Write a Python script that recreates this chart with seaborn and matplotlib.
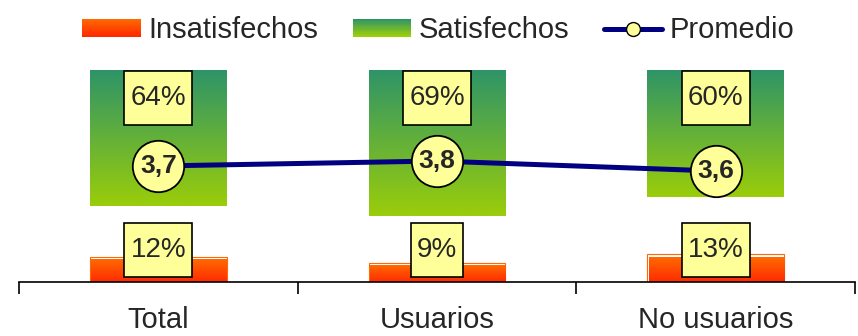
import numpy as np
import pandas as pd
import matplotlib
matplotlib.use("Agg")
import matplotlib.pyplot as plt
import matplotlib.colors as mcolors
from matplotlib.patches import Rectangle
from matplotlib.lines import Line2D
import seaborn as sns

sns.set_theme(style="white")
plt.rcParams['font.family'] = ['Liberation Sans', 'DejaVu Sans']

categorias = ["Total", "Usuarios", "No usuarios"]
insatisfechos = [12, 9, 13]
satisfechos = [64, 69, 60]
promedio = [3.7, 3.8, 3.6]

rojo_top, rojo_bot = "#FF6A00", "#FF2A00"
verde_top, verde_bot = "#2E9468", "#9ACD0A"
amarillo = "#FFFF99"
azul = "#000080"


def gradiente(ax, x0, x1, y0, y1, c_top, c_bot, z=1):
    c1 = np.array(mcolors.to_rgb(c_top))
    c2 = np.array(mcolors.to_rgb(c_bot))
    t = np.linspace(0, 1, 100)[:, None]
    img = (c1 * (1 - t) + c2 * t)[:, None, :]
    ax.imshow(img, extent=[x0, x1, y0, y1], aspect='auto', zorder=z,
              interpolation='bilinear')


class GradHandler:
    def __init__(self, top, bot):
        self.top, self.bot = top, bot

    def legend_artist(self, legend, orig_handle, fontsize, handlebox):
        x0, y0 = handlebox.xdescent, handlebox.ydescent
        w, h = handlebox.width, handlebox.height
        c1 = np.array(mcolors.to_rgb(self.top))
        c2 = np.array(mcolors.to_rgb(self.bot))
        n = 14
        r = None
        for i in range(n):
            c = c1 * (1 - i / (n - 1)) + c2 * (i / (n - 1))
            r = Rectangle((-x0, -y0 + h * (n - 1 - i) / n), w, h / n + 0.3,
                          facecolor=c, edgecolor='none',
                          transform=handlebox.get_transform())
            handlebox.add_artist(r)
        return r


df = pd.DataFrame({"categoria": categorias, "insatisfechos": insatisfechos,
                   "satisfechos": satisfechos, "promedio": promedio})
pos = np.arange(len(df))
ancho = 0.49

fig = plt.figure(figsize=(8.58, 3.36), dpi=100)
ax = fig.add_axes([19 / 858, 1 - 282 / 336, 836 / 858, 212 / 336])

# barras insatisfechos
sns.barplot(data=df, x="categoria", y="insatisfechos", ax=ax, width=ancho,
            color=rojo_top, zorder=1)
for p in ax.patches:
    p.set_facecolor('none')
    p.set_edgecolor(rojo_top)
    p.set_linewidth(0.8)
    x0 = p.get_x()
    gradiente(ax, x0 + 0.004, x0 + p.get_width(), 0, p.get_height() - 1.4,
              rojo_top, rojo_bot)

# barras satisfechos (colgando desde 100)
for i, v in enumerate(df["satisfechos"]):
    gradiente(ax, pos[i] - ancho / 2, pos[i] + ancho / 2, 100 - v, 100,
              verde_top, verde_bot)

caja = dict(boxstyle='square,pad=0.22', mutation_aspect=2.3, fc=amarillo,
            ec='black', lw=1.2)
for i in range(len(df)):
    ax.text(pos[i], 86.8, f"{df['satisfechos'][i]}%", ha='center', va='center',
            fontsize=20, bbox=caja, zorder=5)
    ax.text(pos[i], 15.1, f"{df['insatisfechos'][i]}%", ha='center', va='center',
            fontsize=20, bbox=caja, zorder=5)

ax.set_xlim(-0.5, 2.5)
ax.set_ylim(0, 100)
ax.set_xlabel("")
ax.set_ylabel("")
ax.set_yticks([])
for s in ["top", "left", "right"]:
    ax.spines[s].set_visible(False)
ax.spines["bottom"].set_color("black")
ax.spines["bottom"].set_linewidth(1.2)
ax.set_xticks([-0.5, 0.5, 1.5, 2.5])
ax.set_xticklabels([])
ax.set_xticks(pos, minor=True)
ax.set_xticklabels(categorias, minor=True, fontsize=21)
ax.tick_params(axis='x', which='major', length=8.5, width=1.2, color='black',
               direction='out', bottom=True)
ax.tick_params(axis='x', which='minor', length=0, pad=17)

# promedio
ax2 = ax.twinx()
sns.lineplot(x=pos, y=df["promedio"], ax=ax2, color=azul, linewidth=3.6,
             marker='o', markersize=37, markerfacecolor=amarillo,
             markeredgecolor='black', markeredgewidth=1.3, zorder=3)
for i, v in enumerate(df["promedio"]):
    ax2.text(pos[i], v, f"{v:.1f}".replace(".", ","), ha='center', va='center',
             fontsize=19, fontweight='bold', zorder=6)
ax2.set_ylim(1.38, 5.62)
ax2.set_xlim(-0.5, 2.5)
ax2.set_yticks([])
ax2.set_ylabel("")
for s in ["top", "left", "right", "bottom"]:
    ax2.spines[s].set_visible(False)

h_ins = Rectangle((0, 0), 1, 1)
h_sat = Rectangle((0, 0), 1, 1)
h_pro = Line2D([], [], color=azul, linewidth=3.6, marker='o', markersize=10,
               markerfacecolor=amarillo, markeredgecolor='black')
fig.legend([h_ins, h_sat, h_pro], ["Insatisfechos", "Satisfechos", "Promedio"],
           loc='upper center', bbox_to_anchor=(0.511, 1.03), ncol=3, frameon=False,
           fontsize=21, handlelength=2.0, handleheight=0.55, handletextpad=0.25,
           columnspacing=1.2,
           handler_map={h_ins: GradHandler(rojo_top, rojo_bot),
                        h_sat: GradHandler(verde_top, verde_bot)})

fig.savefig("out.png", dpi=100)
